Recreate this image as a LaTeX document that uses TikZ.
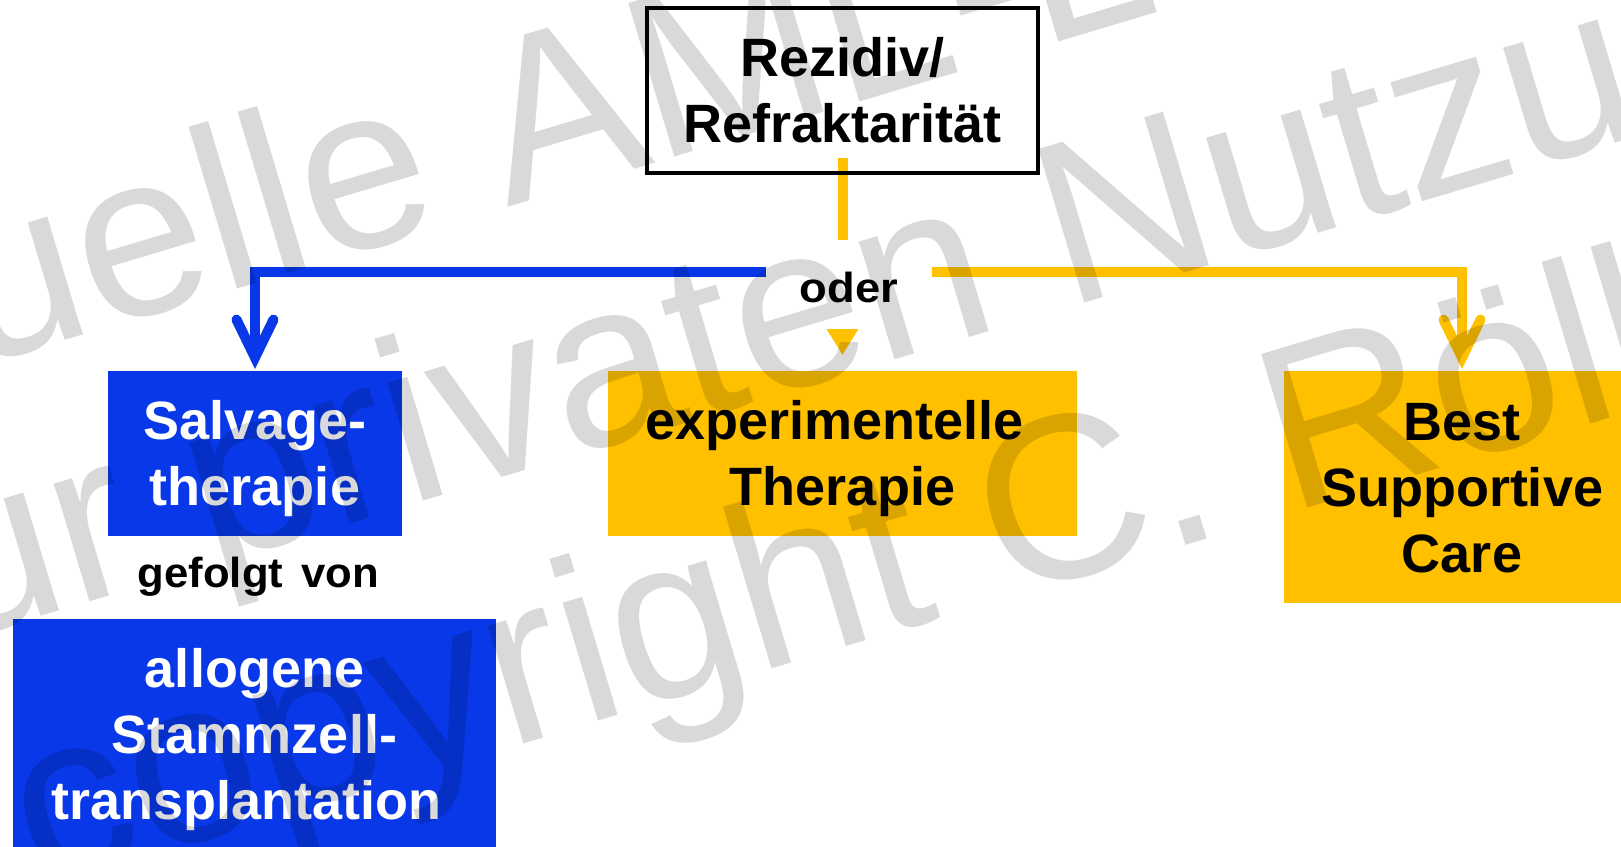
\documentclass[tikz,border=0pt]{standalone}
\usepackage{fontspec}
\setmainfont{Liberation Sans}
\usetikzlibrary{arrows.meta,calc}
\definecolor{amlblue}{RGB}{8,56,232}
\definecolor{amlyellow}{RGB}{255,192,0}
\pgfdeclarelayer{bg}
\pgfsetlayers{bg,main}
\newcommand\firstlinestrut{\rule{0pt}{51.7pt}}
\newcommand\lastlinestrut{\rule[-13pt]{0pt}{13pt}}
\begin{document}
\begin{tikzpicture}[x=1pt,y=-1pt,
  every node/.style={inner sep=0pt, outer sep=0pt},
  bigtext/.style={font=\bfseries\fontsize{54}{66}\selectfont, align=center},
  bluebox/.style={bigtext, fill=amlblue, text=white},
  yellowbox/.style={bigtext, fill=amlyellow, text=black},
  smalltext/.style={font=\bfseries\fontsize{42}{50}\selectfont},
  blueconn/.style={draw=amlblue, line width=10pt,
    -{Straight Barb[length=38pt,width=37pt,line cap=round,line join=miter]}},
  yellowconn/.style={draw=amlyellow, line width=10pt,
    -{Straight Barb[length=38pt,width=37pt,line cap=round,line join=miter]}},
  yellowstem/.style={draw=amlyellow, line width=10pt, -{Triangle[width=30pt,length=26pt]}},
  wm/.style={font=\fontsize{233}{270}\selectfont, text=black, text opacity=0.15, rotate=16.7, anchor=base}
]
\useasboundingbox (0,0) rectangle (1621,846);
\clip (0,0) rectangle (1621,846);

\node[bigtext, draw=black, line width=4pt, minimum width=391pt, minimum height=165pt] (rez) at (842.5,90.5)
  {\firstlinestrut Rezidiv/\\Refraktarität\lastlinestrut};
\node[bluebox, minimum width=294pt, minimum height=165pt] (salv) at (255,453.5)
  {\firstlinestrut Salvage-\\therapie\lastlinestrut};
\node[yellowbox, minimum width=469pt, minimum height=165pt] (mid) at (842.5,453.5)
  {\firstlinestrut experimentelle\kern16pt\\Therapie\lastlinestrut};
\node[yellowbox, minimum width=356pt, minimum height=232pt] (best) at (1462,487)
  {\firstlinestrut Best\\Supportive\\Care\lastlinestrut};
\node[bluebox, minimum width=483pt, minimum height=231pt] (allo) at (254.5,734.5)
  {\firstlinestrut allogene\\Stammzell-\\transplantation\kern16pt\lastlinestrut};
\node[smalltext, anchor=base] (gef) at (258.5,587) {\scalebox{1.04}[1]{gefolgt\hspace{6pt} von}};
\node[smalltext, fill=white, minimum width=166pt, minimum height=89pt, text height=35pt, text depth=0pt] (oder) at (849,284.5)
  {\scalebox{1.08}[1]{oder}};
\coordinate (split) at (842.5,272);

\begin{pgfonlayer}{bg}
\fill[white] (0,0) rectangle (1621,846);
\draw[yellowstem, shorten <=-15pt, shorten >=16pt] (rez.south) -- (mid.north);
\draw[blueconn, shorten >=2pt] (split) -| (salv.north);
\draw[yellowconn, shorten >=2pt] (split) -| (best.north);
\end{pgfonlayer}

\node[wm] (wm1) at (799,120) {Quelle AML-Leitlinie};
\node[wm] (wm2) at (868,368) {zur privaten Nutzung};
\node[wm] (wm3) at (943,618) {copyright C. Röllig};
\end{tikzpicture}
\end{document}
